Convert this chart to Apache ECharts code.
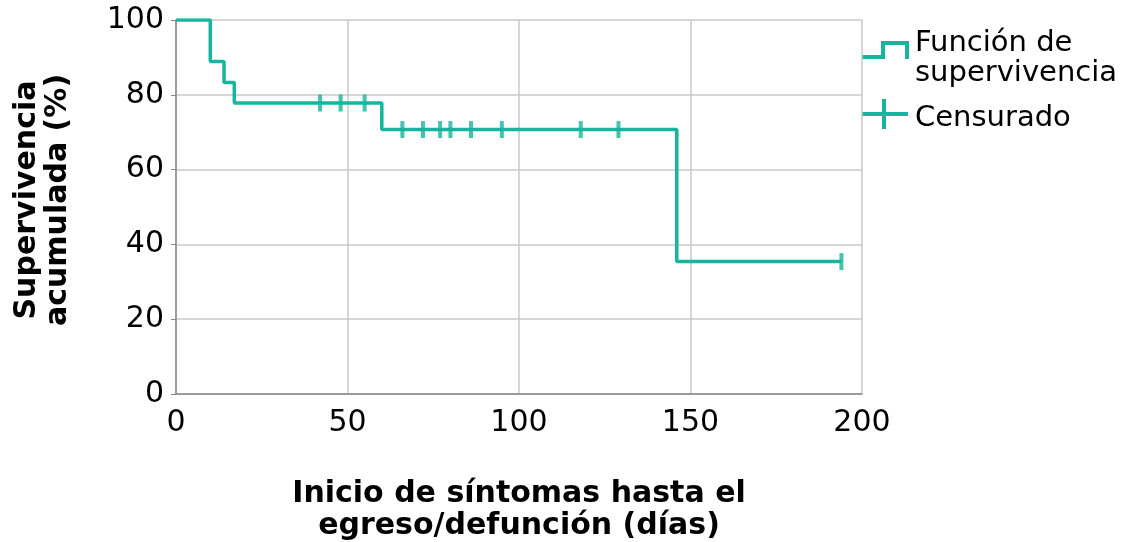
<!DOCTYPE html>
<html>
<head>
<meta charset="utf-8">
<script src="https://cdn.jsdelivr.net/npm/echarts@6/dist/echarts.min.js"></script>
<style>html,body{margin:0;padding:0;background:#fff}#c{width:1130px;height:542px}</style>
</head>
<body>
<div id="c"></div>
<script>
// Kaplan-Meier step points (days, % survival)
const eventTimes = [0, 10, 14, 17, 60, 146, 194];
const survival = [100, 88.9, 83.3, 77.8, 70.7, 35.4, 35.4];
// Censored observations
const censorTimes = [42, 48, 55, 66, 72, 77, 80, 86, 95, 118, 129, 194];
const censorSurv = [77.8, 77.8, 77.8, 70.7, 70.7, 70.7, 70.7, 70.7, 70.7, 70.7, 70.7, 35.4];
// Axis ticks
const xTicks = [0, 50, 100, 150, 200];
const yTicks = [0, 20, 40, 60, 80, 100];

const seriesNames = ['Función de\nsupervivencia', 'Censurado'];
const teal = '#17b49e';
const FONT = 'DejaVu Sans';

const chart = echarts.init(document.getElementById('c'), null, {renderer: 'canvas'});
chart.setOption({
  animation: false,
  backgroundColor: '#ffffff',
  grid: {left: 176, right: 268, top: 20, bottom: 148, containLabel: false, outerBoundsMode: 'none'},
  legend: {show: false, data: seriesNames},
  graphic: [
    // legend: survival function (step icon)
    {type: 'polyline', shape: {points: [[862, 57], [883, 57], [883, 43], [907, 43], [907, 59]]},
     style: {stroke: teal, lineWidth: 4, fill: null}},
    {type: 'text', left: 915, top: 28,
     style: {text: seriesNames[0], font: '29px "DejaVu Sans"', fill: '#000', lineHeight: 30}},
    // legend: censored (plus icon)
    {type: 'line', shape: {x1: 862, y1: 114, x2: 908, y2: 114}, style: {stroke: teal, lineWidth: 4}},
    {type: 'line', shape: {x1: 884, y1: 99, x2: 884, y2: 129}, style: {stroke: teal, lineWidth: 4}},
    {type: 'text', left: 915, top: 103,
     style: {text: seriesNames[1], font: '29px "DejaVu Sans"', fill: '#000', lineHeight: 30}}
  ],
  xAxis: {
    type: 'value',
    min: xTicks[0], max: xTicks[xTicks.length - 1], interval: 50,
    name: 'Inicio de síntomas hasta el\negreso/defunción (días)',
    nameLocation: 'middle',
    nameGap: 84,
    nameTextStyle: {fontFamily: FONT, fontSize: 30, fontWeight: 'bold', color: '#000', lineHeight: 32},
    axisLine: {show: true, lineStyle: {color: '#888888', width: 1.5}},
    axisTick: {show: false},
    axisLabel: {fontFamily: FONT, fontSize: 30, color: '#000', margin: 14},
    splitLine: {show: true, lineStyle: {color: '#c9c9c9', width: 1.5}}
  },
  yAxis: {
    type: 'value',
    min: yTicks[0], max: yTicks[yTicks.length - 1], interval: 20,
    name: 'Supervivencia\nacumulada (%)',
    nameLocation: 'middle',
    nameRotate: 90,
    nameGap: 102,
    nameTextStyle: {fontFamily: FONT, fontSize: 30, fontWeight: 'bold', color: '#000', lineHeight: 31, padding: [0, 0, 0, 14]},
    axisLine: {show: true, lineStyle: {color: '#888888', width: 1.5}},
    axisTick: {show: true, length: 5, lineStyle: {color: '#888888'}},
    axisLabel: {fontFamily: FONT, fontSize: 30, color: '#000', margin: 12},
    splitLine: {show: true, lineStyle: {color: '#c9c9c9', width: 1.5}}
  },
  series: [
    {
      name: seriesNames[0],
      type: 'line',
      step: 'end',
      data: eventTimes.map((t, i) => [t, survival[i]]),
      showSymbol: false,
      lineStyle: {color: teal, width: 3.5},
      itemStyle: {color: teal},
      z: 3
    },
    {
      name: seriesNames[1],
      type: 'scatter',
      data: censorTimes.map((t, i) => [t, censorSurv[i]]),
      symbol: 'rect',
      symbolSize: [4, 17],
      itemStyle: {color: teal},
      z: 4
    }
  ]
});
</script>
</body>
</html>
